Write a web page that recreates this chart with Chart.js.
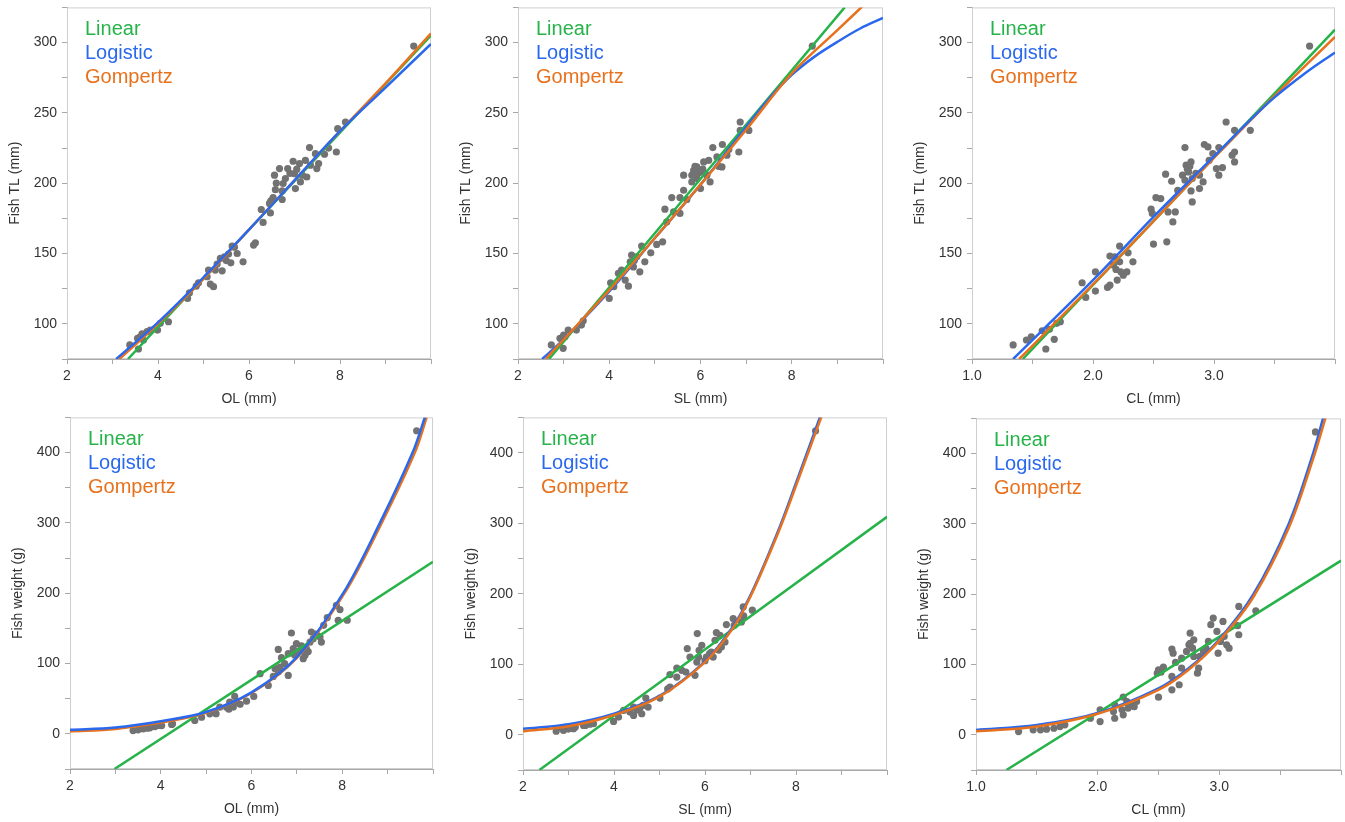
<!DOCTYPE html>
<html>
<head>
<meta charset="utf-8">
<script src="https://cdn.jsdelivr.net/npm/chart.js@4.4.1/dist/chart.umd.min.js"></script>
<style>
  body { margin: 0; background: #fff; width: 1345px; height: 822px; position: relative; overflow: hidden; }
  canvas { position: absolute; }
</style>
</head>
<body>
<script>
// ---- data ----
const tlTicks = [100, 150, 200, 250, 300];
const wTicks = [0, 100, 200, 300, 400];
const mmTicks = [2, 4, 6, 8];
const clTicks = [1, 2, 3];

// scatter points [x, y]
const olTL = [[9.62,297.5],[8.12,243.5],[7.95,238.8],[7.92,222.2],[7.33,225.3],[7.66,220.6],[7.75,225],[7.46,221],[7.53,214],[7.49,210.4],[7.35,212.8],[7.24,216.3],[6.97,215.6],[7.11,214],[6.85,210.4],[6.67,210.4],[7.0,206.8],[7.17,205.7],[7.27,204.4],[6.80,203.3],[6.56,205.7],[6.75,199.8],[7.02,196.2],[7.13,200.9],[6.58,195.4],[6.73,194.5],[6.53,189.8],[6.48,187.4],[6.73,188.4],[6.45,185.6],[6.27,181.3],[6.47,178.9],[6.31,172.1],[6.14,157.6],[6.10,156],[5.87,144.1],[5.74,150],[5.63,155.3],[5.55,149.6],[5.60,143.4],[5.46,147.7],[5.37,146.5],[5.41,137.7],[5.30,142.5],[5.26,138.2],[5.11,138.2],[5.08,133.5],[5.15,128.3],[5.22,126.4],[4.89,129.2],[4.84,126.8],[4.69,122],[4.65,118.1],[4.23,101.5],[4.05,100.4],[3.99,95.6],[3.83,95.6],[3.76,94.4],[3.65,92.8],[3.55,89.7],[3.68,88.5],[3.38,85],[3.57,82.1],[6.9,207],[7.05,210],[6.6,200],[5.68,154.5],[5.5,145],[3.6,90.5]];
const slTL = [[8.45,297.5],[6.87,243.5],[6.87,237.5],[7.06,237.5],[6.27,225.3],[6.48,227.5],[6.62,224],[6.84,222.2],[6.58,219.9],[6.36,218.7],[6.47,211.6],[6.40,212],[6.18,216.3],[6.07,215.1],[5.92,211.6],[6.0,208],[5.85,209.2],[5.81,205.7],[5.63,205.7],[5.92,203.3],[5.81,200.9],[6.21,200.9],[6.0,196.2],[6.14,205.7],[5.63,195],[5.37,189.8],[5.55,189.8],[5.70,188.4],[5.22,181.5],[5.41,179.6],[5.55,178.5],[5.26,172.5],[5.17,158.3],[5.04,156.5],[4.71,155.3],[4.49,148.9],[4.60,147.7],[4.91,150.5],[4.78,144.1],[4.46,144.1],[4.67,137],[4.53,140.5],[4.27,138.2],[4.20,135.9],[4.35,131.1],[4.42,126.8],[4.03,129.2],[4.10,126.4],[4.0,118.1],[3.43,102.2],[3.39,99.1],[3.28,95.6],[3.10,95.6],[3.03,90.8],[2.92,89.7],[2.73,85],[2.99,82.6],[5.95,207],[5.88,212],[6.05,210],[4.55,145],[3.0,92]];
const clTL = [[3.79,297.5],[3.10,243.5],[3.17,237.6],[3.30,237.6],[2.76,225.3],[2.92,227.5],[2.95,225.8],[3.04,225.3],[2.99,221.1],[2.96,216.3],[3.17,222.2],[3.15,219.9],[3.17,215.1],[3.07,211.1],[3.02,210.4],[3.04,205.7],[2.81,215.1],[2.77,212.8],[2.79,208],[2.74,205.7],[2.76,202.1],[2.82,203.3],[2.88,205.7],[2.91,200.9],[2.88,196.2],[2.81,194.5],[2.82,186.7],[2.60,206.4],[2.65,201.4],[2.70,195],[2.52,189.8],[2.56,189.1],[2.48,181.5],[2.49,178.5],[2.62,179.6],[2.68,179.6],[2.66,172.5],[2.50,156.7],[2.61,158.3],[2.22,155.3],[2.14,148.2],[2.18,147.7],[2.29,150.5],[2.33,144.1],[2.22,144.1],[2.17,141.8],[2.19,138.7],[2.23,137],[2.28,137],[2.25,134.6],[2.20,131.1],[2.14,127.5],[2.12,125.9],[2.02,137],[1.91,129.2],[2.02,123.3],[1.94,118.8],[1.73,101.5],[1.70,100.4],[1.64,96.1],[1.58,95.1],[1.49,90.8],[1.45,88.5],[1.68,89],[1.34,85],[1.61,82.1],[2.78,210],[2.80,212],[2.85,207]];
const olW = [[9.64,431],[7.87,182.8],[7.95,176.7],[7.91,161.5],[8.11,161.5],[7.67,165.3],[7.59,154.3],[7.51,137.7],[7.32,144.8],[7.41,142],[7.54,130.5],[7.36,135.4],[7.29,130.5],[7.21,121.1],[7.18,111.6],[7.14,106.9],[7.25,117],[6.88,143.4],[6.99,128.3],[6.92,121.1],[6.81,114],[6.59,120.1],[6.66,108.3],[6.73,99.8],[6.63,94.9],[6.52,92.6],[6.48,81.7],[6.59,88],[6.81,83.1],[6.37,68.8],[6.19,85.5],[6.05,53.2],[5.89,46.5],[5.63,53.2],[5.67,45],[5.52,45],[5.45,37.9],[5.6,38],[5.30,37.9],[5.19,30.8],[5.22,28.6],[5.08,28.5],[4.90,23.7],[4.75,19],[4.24,13.3],[4.02,11.8],[3.87,10.4],[3.76,8.5],[3.61,7.1],[3.50,5.7],[3.39,4.7],[4.26,14.3],[7.05,118],[7.1,125],[5.75,42],[5.5,35],[3.95,12],[3.7,8],[7.45,140],[6.95,112]];
const slW = [[8.43,431],[7.04,176.6],[6.84,181.3],[6.85,168.5],[6.80,160],[6.62,164.8],[6.47,156.2],[6.64,155],[6.25,144.9],[6.33,141],[6.44,131.5],[6.36,124.4],[6.22,133.9],[6.14,117.3],[6.18,110.2],[6.03,110.2],[5.83,143.5],[5.93,126.8],[5.87,119.7],[5.61,122.2],[5.67,110.2],[5.82,103.1],[5.86,110],[5.38,94.6],[5.49,91.3],[5.58,88.9],[5.23,85.2],[5.38,81.8],[5.78,84.2],[5.23,67.6],[5.18,65],[5.01,52],[4.70,52],[4.64,41.6],[4.75,39.2],[4.57,37.8],[4.43,39.2],[4.35,32.1],[4.61,29.8],[4.43,27.4],[4.21,34.5],[4.10,25],[3.99,18.9],[3.55,15.6],[3.33,13.2],[3.15,10.8],[2.96,10.8],[2.86,9.4],[2.73,5.1],[2.89,6.1],[3.11,8.5],[3.37,13.2],[3.47,15],[6.1,115],[6.0,105],[4.5,35],[3.0,8],[6.3,120]];
const clW = [[3.79,430.8],[3.30,176.5],[3.16,182.6],[3.15,155.2],[3.16,142.3],[3.03,161.3],[2.95,166],[2.93,156.6],[2.98,147],[3.04,139.9],[3.01,132.8],[3.06,128.1],[3.08,123.3],[2.99,116.2],[2.91,132.8],[2.89,123.3],[2.87,118.6],[2.84,111.5],[2.82,87.7],[2.83,94.8],[2.76,144.6],[2.79,135.2],[2.75,128.1],[2.78,123.3],[2.73,118.6],[2.79,111.5],[2.69,109],[2.69,94.8],[2.61,121.9],[2.62,116.2],[2.64,103],[2.61,83],[2.67,71.2],[2.61,64],[2.54,96.2],[2.50,92.5],[2.52,89],[2.49,87.7],[2.50,53.5],[2.32,47.4],[2.28,42.7],[2.24,47.4],[2.21,53.5],[2.25,37.9],[2.20,35.6],[2.14,42.7],[2.13,33.2],[2.21,28.5],[2.14,23.6],[2.02,35.6],[2.02,18.9],[1.94,23.6],[1.73,14.2],[1.69,11.8],[1.64,9.4],[1.58,8],[1.53,7.1],[1.47,7.1],[1.35,4.7],[2.76,130],[2.25,45],[2.3,40]];

// fitted curves, points
const olTL_lin = [[3.34,75],[10,305]];
const olTL_logi = [[3.08,75],[4,101],[5,133],[6,167],[7,202],[8,237],[9,268],[10,299]];
const olTL_gomp = [[3.15,75],[4,100],[5,132],[6,167],[7,202],[8,237],[9,271],[10,306.5]];
const slTL_lin = [[2.68,75],[9.16,325]];
const slTL_logi = [[2.53,75],[3,89],[4,123],[5,161],[6,199],[7,240],[7.5,260],[8,277],[8.5,290],[9,300.5],[9.5,310],[10,317.5]];
const slTL_gomp = [[2.61,75],[4,124],[5,161],[6,199],[7,238],[8,278],[9,308.8],[9.55,325.8]];
const clTL_lin = [[1.42,75],[4,309.2]];
const clTL_logi = [[1.34,75],[2,131],[2.5,176],[3,219],[3.3,245],[3.5,261],[3.75,278],[4,293]];
const clTL_gomp = [[1.39,75],[2,128],[2.5,173],[3,218],[3.5,262],[4,304]];
const olW_lin = [[2.98,-50],[10,244.6]];
const olW_logi = [[2,5.7],[3,9],[4,18],[5,31],[6,59],[7,109],[8.02,200],[8.83,300],[9.55,400],[9.82,450]];
const olW_gomp = [[2,3.5],[3,7],[4,16],[5,30],[6,58],[7,108],[8.05,200],[8.87,300],[9.6,400],[9.86,450]];
const slW_lin = [[2.36,-50],[10,309]];
const slW_logi = [[2,8.5],[3,15],[4,30],[5,55],[6,104],[6.6,152],[7,198],[7.6,288],[8,357],[8.58,460]];
const slW_gomp = [[2,5],[3,12],[4,28],[5,54],[6,103],[6.6,150],[7,196],[7.6,285],[8,353],[8.61,460]];
const clW_lin = [[1.25,-50],[4,247.7]];
const clW_logi = [[1,7],[1.5,14],[2,31],[2.5,66],[2.75,95],[3,136],[3.28,200],[3.57,300],[3.77,400],[3.86,455]];
const clW_gomp = [[1,5],[1.5,12],[2,30],[2.5,64],[2.75,93],[3,134],[3.28,196],[3.57,294],[3.77,392],[3.88,455]];

const GREEN = '#27b34a', BLUE = '#2a68ee', ORANGE = '#e8711d', DOT = '#727272';
Chart.defaults.font.family = '"Liberation Sans", Arial, sans-serif';

// panel boxes (canvas position and size)
const panels = [
  { box: [1, -6, 434, 415],   xt: 'OL (mm)', yt: 'Fish TL (mm)', pts: olTL, lin: olTL_lin, logi: olTL_logi, gomp: olTL_gomp, cl: false, w: false, top: 'logi' },
  { box: [452, -6, 435, 415], xt: 'SL (mm)', yt: 'Fish TL (mm)', pts: slTL, lin: slTL_lin, logi: slTL_logi, gomp: slTL_gomp, cl: false, w: false, top: 'gomp' },
  { box: [906, -6, 433, 415], xt: 'CL (mm)', yt: 'Fish TL (mm)', pts: clTL, lin: clTL_lin, logi: clTL_logi, gomp: clTL_gomp, cl: true, w: false, top: 'logi' },
  { box: [4, 404, 433, 415], xt: 'OL (mm)', yt: 'Fish weight (g)', pts: olW, lin: olW_lin, logi: olW_logi, gomp: olW_gomp, cl: false, w: true, top: 'logi' },
  { box: [457, 404, 434, 416], xt: 'SL (mm)', yt: 'Fish weight (g)', pts: slW, lin: slW_lin, logi: slW_logi, gomp: slW_gomp, cl: false, w: true, top: 'gomp' },
  { box: [910, 405, 435, 415], xt: 'CL (mm)', yt: 'Fish weight (g)', pts: clW, lin: clW_lin, logi: clW_logi, gomp: clW_gomp, cl: true, w: true, top: 'gomp' }
];

const toXY = arr => arr.map(p => ({ x: p[0], y: p[1] }));

// light frame around plot area + text legend inside
const framePlugin = {
  id: 'frame',
  beforeDatasetsDraw(chart) {
    const { ctx, chartArea: a } = chart;
    ctx.save();
    ctx.strokeStyle = '#cfcfcf';
    ctx.lineWidth = 1;
    ctx.strokeRect(a.left + 0.5, a.top + 0.5, a.right - a.left - 1, a.bottom - a.top - 1);
    ctx.restore();
  },
  afterDatasetsDraw(chart) {
    const { ctx, chartArea: a } = chart;
    ctx.save();
    ctx.font = '20px "Liberation Sans", Arial, sans-serif';
    ctx.textBaseline = 'alphabetic';
    [['Linear', GREEN], ['Logistic', BLUE], ['Gompertz', ORANGE]].forEach((t, i) => {
      ctx.fillStyle = t[1];
      ctx.fillText(t[0], a.left + 18, a.top + 28 + i * 24);
    });
    ctx.restore();
  }
};

panels.forEach(p => {
  const c = document.createElement('canvas');
  c.width = p.box[2]; c.height = p.box[3];
  c.style.left = p.box[0] + 'px'; c.style.top = p.box[1] + 'px';
  c.style.width = p.box[2] + 'px'; c.style.height = p.box[3] + 'px';
  document.body.appendChild(c);

  const curve = (data, color) => ({
    data: toXY(data), showLine: true, borderColor: color, borderWidth: 2.5,
    pointRadius: 0, tension: 0.35, fill: false
  });
  const lg = curve(p.logi, BLUE), gp = curve(p.gomp, ORANGE), ln = curve(p.lin, GREEN);
  const lines = p.top === 'logi' ? [lg, gp, ln] : [gp, lg, ln];
  const dots = { data: toXY(p.pts), pointRadius: 3.6, pointBackgroundColor: DOT, pointBorderWidth: 0, showLine: false };

  const axisGrid = { drawOnChartArea: false, drawTicks: true, tickLength: 5, color: '#a8a8a8' };
  const tickFont = { size: 14 };

  new Chart(c, {
    type: 'scatter',
    data: { datasets: [...lines, dots] },
    options: {
      responsive: false, animation: false,
      layout: { padding: 0 },
      plugins: { legend: { display: false }, tooltip: { enabled: false } },
      scales: {
        x: {
          type: 'linear',
          min: p.cl ? 1 : 2, max: p.cl ? 4 : 10,
          afterFit: s => { s.height = 50; },
          grid: axisGrid,
          border: { color: '#a8a8a8' },
          ticks: {
            stepSize: p.cl ? 0.5 : 1, autoSkip: false, maxRotation: 0, padding: 4,
            color: '#333', font: tickFont,
            callback: v => p.cl ? (clTicks.includes(v) ? v.toFixed(1) : '') : (mmTicks.includes(v) ? String(v) : '')
          },
          title: { display: true, text: p.xt, color: '#333', font: { size: 14 }, padding: { top: 4, bottom: 1 } }
        },
        y: {
          type: 'linear',
          min: p.w ? -50 : 75, max: p.w ? 450 : 325,
          afterFit: s => { s.width = 66; },
          grid: axisGrid,
          border: { color: '#a8a8a8' },
          ticks: {
            stepSize: p.w ? 50 : 25, autoSkip: false, padding: 5,
            color: '#333', font: tickFont,
            callback: v => (p.w ? wTicks : tlTicks).includes(v) ? String(v) : ''
          },
          title: { display: true, text: p.yt, color: '#333', font: { size: 14 }, padding: { top: 6, bottom: 4 } }
        }
      }
    },
    plugins: [framePlugin]
  });
});
</script>
</body>
</html>
